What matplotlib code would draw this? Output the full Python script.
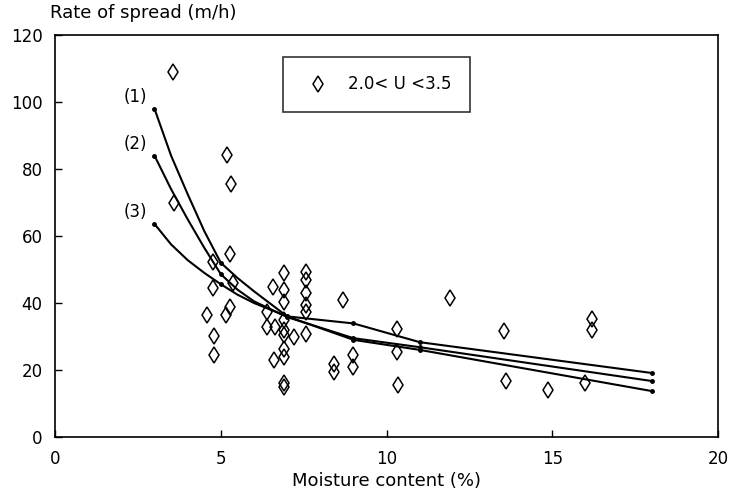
import numpy as np
import matplotlib
matplotlib.use("Agg")
import matplotlib.pyplot as plt

plt.rcParams['font.family'] = ['DejaVu Sans']

# datos observados (2.0 < U < 3.5)
humedad = [3.55, 3.58, 5.18, 5.3, 5.28, 4.75, 5.38, 4.75, 4.58, 5.28, 5.15, 4.78, 4.78,
           6.57, 6.38, 6.38, 6.62, 6.6, 6.89, 6.89, 6.89, 6.92, 6.92, 6.92, 7.2, 6.92, 6.92,
           6.92, 6.92, 7.58, 7.58, 7.58, 7.58, 7.58, 7.58, 8.69, 8.42, 8.42, 9.0, 9.0,
           10.3, 10.3, 10.33, 11.92, 13.55, 13.6, 14.87, 16.18, 16.18, 15.99]
velocidad = [109, 70, 84.2, 75.5, 54.7, 52.3, 46.0, 44.6, 36.4, 38.9, 36.4, 30.2, 24.5,
             44.8, 37.2, 32.8, 32.8, 23.1, 48.9, 43.8, 40.4, 34.9, 31.9, 30.4, 29.8, 26.2, 24.0,
             16.0, 14.8, 49.3, 47.0, 43.0, 39.5, 37.4, 30.8, 40.8, 21.7, 19.3, 24.4, 21.0,
             32.2, 25.3, 15.5, 41.4, 31.6, 16.8, 14.0, 35.2, 32.0, 16.0]

# curvas de los modelos (1), (2), (3)
m_modelo = [3, 3.5, 4, 4.5, 5, 5.5, 6, 7, 9, 11, 18]
r_modelo1 = [98, 84, 72.5, 61.5, 52, 47.5, 43.5, 36, 29, 26, 13.7]
r_modelo2 = [84, 74, 65, 56.5, 48.6, 44, 40.5, 35.8, 29.5, 26.8, 16.7]
r_modelo3 = [63.6, 57.5, 52.8, 49, 45.6, 42.5, 40, 36, 33.9, 28.3, 19.1]
etiquetas = ["(1)", "(2)", "(3)"]

fig = plt.figure(figsize=(7.33, 5.0), dpi=100)
ax = fig.add_axes([0.075, 0.126, 0.905, 0.804])

ax.plot(humedad, velocidad, linestyle='none', marker='d', markersize=8.5,
        markerfacecolor='none', markeredgecolor='black', markeredgewidth=1.1,
        label='2.0< U <3.5')

for r, et in zip([r_modelo1, r_modelo2, r_modelo3], etiquetas):
    ax.plot(m_modelo, r, color='black', linewidth=1.5, marker='o', markersize=2.5,
            markevery=[0, 4, 7, 8, 9, 10])
    ax.annotate(et, (m_modelo[0], r[0]), xytext=(-5, 2), textcoords='offset points',
                ha='right', va='bottom', fontsize=12)

ax.set_xlim(0, 20)
ax.set_ylim(0, 120)
ax.set_xticks([0, 5, 10, 15, 20])
ax.set_yticks([0, 20, 40, 60, 80, 100, 120])
ax.tick_params(direction='in', length=5, width=1, labelsize=12, pad=9)
for s in ax.spines.values():
    s.set_linewidth(1.2)

ax.set_xlabel("Moisture content (%)", fontsize=13, labelpad=3)
fig.text(0.068, 0.957, "Rate of spread (m/h)", fontsize=13, ha='left', va='bottom')

leg = ax.legend(loc='upper left', bbox_to_anchor=(0.344, 0.945), frameon=True,
                fancybox=False, edgecolor='black', fontsize=12, borderpad=1.1,
                handletextpad=0.8, borderaxespad=0, handlelength=2.0)
leg.get_frame().set_linewidth(1.2)

fig.savefig("out.png", dpi=100)
